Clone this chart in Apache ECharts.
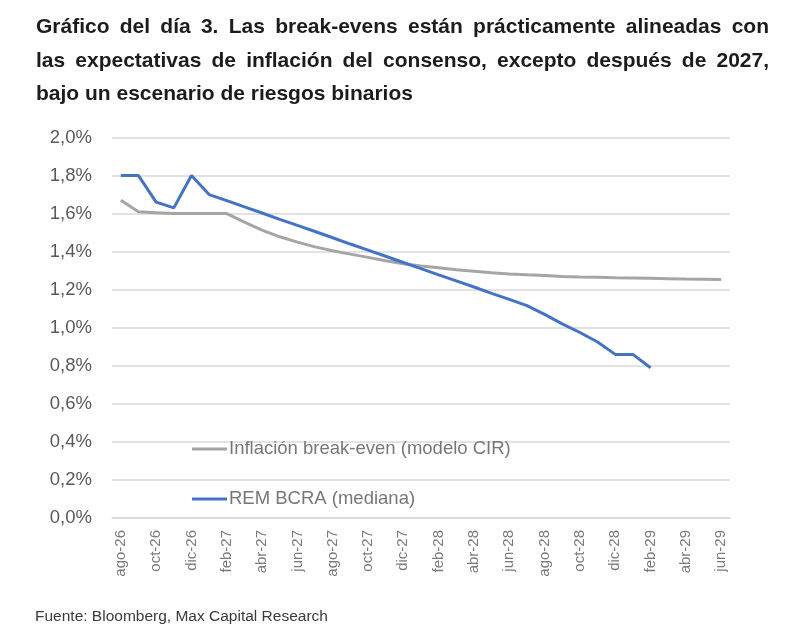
<!DOCTYPE html>
<html>
<head>
<meta charset="utf-8">
<script src="https://cdn.jsdelivr.net/npm/echarts@6/dist/echarts.min.js"></script>
<style>
  html, body { margin: 0; padding: 0; background: #ffffff; }
  #chart { width: 800px; height: 632px; }
</style>
</head>
<body>
<div id="chart"></div>
<script>
const titleLines = [
  'Gráfico del día 3. Las break-evens están prácticamente alineadas con',
  'las expectativas de inflación del consenso, excepto después de 2027,',
  'bajo un escenario de riesgos binarios'
];
const sourceText = 'Fuente: Bloomberg, Max Capital Research';

const categories = [
  'ago-26','sep-26','oct-26','nov-26','dic-26','ene-27','feb-27','mar-27','abr-27','may-27',
  'jun-27','jul-27','ago-27','sep-27','oct-27','nov-27','dic-27','ene-28','feb-28','mar-28',
  'abr-28','may-28','jun-28','jul-28','ago-28','sep-28','oct-28','nov-28','dic-28','ene-29',
  'feb-29','mar-29','abr-29','may-29','jun-29'
];

const seriesNames = ['Inflación break-even (modelo CIR)', 'REM BCRA (mediana)'];

const breakEven = [
  1.67, 1.61, 1.605, 1.60, 1.60, 1.60, 1.60, 1.555, 1.513, 1.478,
  1.45, 1.425, 1.405, 1.387, 1.37, 1.352, 1.336, 1.324, 1.315, 1.305,
  1.297, 1.289, 1.283, 1.278, 1.274, 1.27, 1.267, 1.265, 1.263, 1.262,
  1.26, 1.258, 1.256, 1.255, 1.254
];

const remBcra = [
  1.80, 1.80, 1.66, 1.63, 1.80, 1.70, 1.668, 1.635, 1.603, 1.57,
  1.538, 1.506, 1.473, 1.44, 1.408, 1.376, 1.343, 1.311, 1.278, 1.246,
  1.214, 1.181, 1.149, 1.116, 1.07, 1.02, 0.975, 0.925, 0.86, 0.86,
  0.79
];

const yTicks = { min: 0, max: 2.0, interval: 0.2 };

// ---- title (justified like the source) ----
const FONT_FAMILY = '"Liberation Sans", Arial, sans-serif';
const titleFont = 'bold 21px ' + FONT_FAMILY;
const titleLeft = 36, titleRight = 769;
const titleMidY = [27, 61, 94];
const measureCtx = document.createElement('canvas').getContext('2d');
measureCtx.font = titleFont;
const graphics = [];
titleLines.forEach((line, i) => {
  const words = line.split(' ');
  const isLast = i === titleLines.length - 1;
  const widths = words.map(w => measureCtx.measureText(w).width);
  const total = widths.reduce((a, b) => a + b, 0);
  const gap = isLast ? measureCtx.measureText(' ').width
                     : (titleRight - titleLeft - total) / (words.length - 1);
  let x = titleLeft;
  words.forEach((w, j) => {
    graphics.push({
      type: 'text', x: x, y: titleMidY[i],
      style: { text: w, font: titleFont, fill: '#1c1c1c', verticalAlign: 'middle', align: 'left' }
    });
    x += widths[j] + gap;
  });
});
graphics.push({
  type: 'text', x: 35, y: 617,
  style: { text: sourceText, font: '15.5px ' + FONT_FAMILY, fill: '#3a3a3a', verticalAlign: 'middle' }
});

const legendCommon = {
  icon: 'rect', itemWidth: 35, itemHeight: 3, padding: 0,
  textStyle: { color: '#777777', fontSize: 18.5, lineHeight: 20, padding: [0, 0, 0, -3] }
};

const chart = echarts.init(document.getElementById('chart'));
chart.setOption({
  backgroundColor: '#ffffff',
  animation: false,
  textStyle: { fontFamily: FONT_FAMILY },
  graphic: graphics,
  grid: { left: 112, right: 70, top: 137.5, bottom: 114 },
  legend: [
    Object.assign({ data: [seriesNames[0]], left: 192, top: 439 }, legendCommon),
    Object.assign({ data: [seriesNames[1]], left: 192, top: 489 }, legendCommon)
  ],
  xAxis: {
    type: 'category',
    data: categories,
    boundaryGap: true,
    axisLine: { show: true, lineStyle: { color: '#d9d9d9', width: 1.5 } },
    axisTick: { show: false },
    axisLabel: {
      interval: 1, rotate: 90, margin: 12,
      color: '#7a7a7a', fontSize: 15
    },
    splitLine: { show: false }
  },
  yAxis: {
    type: 'value',
    min: yTicks.min, max: yTicks.max, interval: yTicks.interval,
    axisLine: { show: false },
    axisTick: { show: false },
    axisLabel: {
      margin: 20, color: '#595959', fontSize: 18.5,
      formatter: v => v.toFixed(1).replace('.', ',') + '%'
    },
    splitLine: { lineStyle: { color: '#d9d9d9', width: 1.5 } }
  },
  series: [
    {
      name: seriesNames[0], type: 'line', data: breakEven,
      showSymbol: false, symbol: 'none',
      lineStyle: { color: '#a5a5a5', width: 3 },
      itemStyle: { color: '#a5a5a5' }
    },
    {
      name: seriesNames[1], type: 'line', data: remBcra,
      showSymbol: false, symbol: 'none',
      lineStyle: { color: '#4472c4', width: 3 },
      itemStyle: { color: '#4472c4' }
    }
  ]
});
</script>
</body>
</html>
